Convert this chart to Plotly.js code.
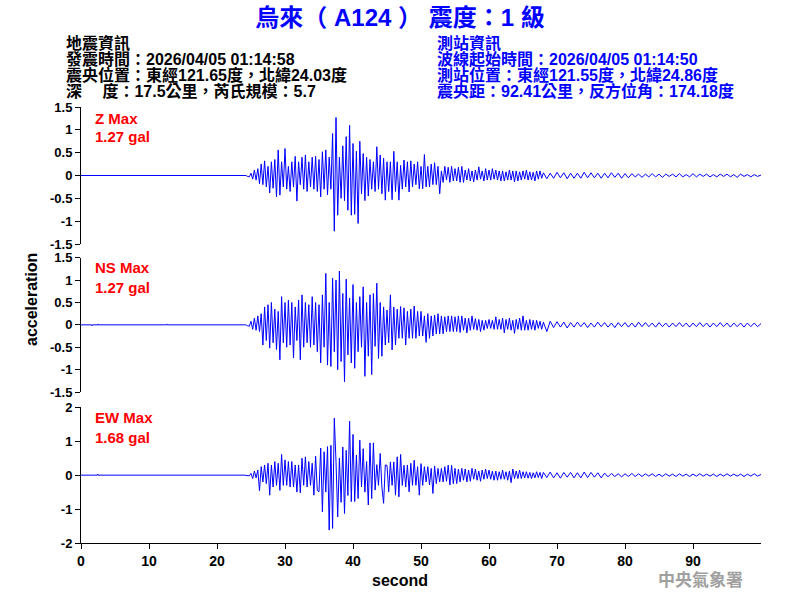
<!DOCTYPE html>
<html><head><meta charset="utf-8">
<script src="https://cdn.plot.ly/plotly-3.0.1.min.js"></script>
<style>html,body{margin:0;padding:0;background:#fff}</style>
</head><body><div id="chart" style="width:800px;height:600px"></div>
<script>
// ---------- texts ----------
const chartTitle = "烏來（ A124 ） 震度：1 級";
const quakeInfo = ["地震資訊", "發震時間：2026/04/05 01:14:58", "震央位置：東經121.65度，北緯24.03度", "深　 度：17.5公里，芮氏規模：5.7"];
const stationInfo = ["測站資訊", "波線起始時間：2026/04/05 01:14:50", "測站位置：東經121.55度，北緯24.86度", "震央距：92.41公里，反方位角：174.18度"];
const componentNames = ["Z Max", "NS Max", "EW Max"];
const maxValues = ["1.27 gal", "1.27 gal", "1.68 gal"];
const xTickVals = [0, 10, 20, 30, 40, 50, 60, 70, 80, 90];
const yTick15 = [-1.5, -1, -0.5, 0, 0.5, 1, 1.5];
const yTick15Text = ["-1.5", "-1", "-0.5", "0", "0.5", "1", "1.5"];
const yTick2 = [-2, -1, 0, 1, 2];
const yTick2Text = ["-2", "-1", "0", "1", "2"];

// ---------- sampling ----------
const strongStart = 24, strongStep = 0.25;   // 24.00 .. 67.75 s
const codaStart = 68, codaStep = 0.5;        // 68.0 .. 100.0 s

// pre-event (quiet) samples
const zPreT = [0];
const zPreV = [0];
const nsPreT = [0, 1.6, 1.65, 1.7, 2.5, 2.55, 2.6, 12.6, 12.65, 12.7];
const nsPreV = [0, 0, -0.02, 0, 0, 0.02, 0, 0, 0.02, 0];
const ewPreT = [0, 2.4, 2.45, 2.5];
const ewPreV = [0, 0, 0.03, 0];

// Z component, strong motion (gal), 4 samples per second from 24 s
const zStrong = [
 0,0,-0.02,-0.03, 0.05,-0.08,0.12,-0.1, 0.15,-0.18,0.25,-0.2, 0.32,-0.25,0.2,-0.38,
 0.3,-0.28,0.35,-0.47, 0.56,-0.43,0.3,-0.25, 0.59,-0.3,0.2,-0.35, 0.3,-0.25,0.42,-0.56,
 0.3,-0.2,0.4,-0.3, 0.45,-0.35,0.3,-0.25, 0.4,-0.3,0.42,-0.35, 0.35,-0.47,0.52,-0.3,
 0.56,-0.42,0.4,-0.3, 0.92,-1.22,1.27,-0.87, 0.4,-0.5,0.65,-0.55, 0.85,-0.76,1.1,-0.87,
 0.7,-0.85,0.53,-1.05, 0.75,-0.4,0.48,-0.55, 0.4,-0.45,0.35,-0.3, 0.3,-0.35,0.63,-0.3,
 0.45,-0.4,0.38,-0.54, 0.3,-0.35,0.3,-0.53, 0.53,-0.35,0.3,-0.54, 0.22,-0.3,0.34,-0.25,
 0.3,-0.36,0.32,-0.25, 0.25,-0.2,0.3,-0.29, 0.2,-0.29,0.46,-0.25, 0.2,-0.25,0.25,-0.2,
 0.28,-0.2,0.2,-0.4, 0.1,-0.15,0.2,-0.1, 0.18,-0.15,0.2,-0.12, 0.15,-0.12,0.18,-0.15,
 0.2,-0.15,0.12,-0.1, 0.15,-0.12,0.1,-0.14, 0.12,-0.1,0.19,-0.08, 0.1,-0.12,0.15,-0.1,
 0.12,-0.1,0.15,-0.08, 0.12,-0.1,0.1,-0.12, 0.1,-0.12,0.08,-0.1, 0.12,-0.1,0.1,-0.14,
 0.1,-0.12,0.08,-0.1, 0.1,-0.08,0.12,-0.1, 0.08,-0.1,0.07,-0.12, 0.1,-0.08,0.1,-0.06
];
// Z component, coda, 2 samples per second from 68 s
const zCoda = [
 0.06,-0.07,0.05,-0.06,0.07,-0.05,0.06,-0.07,0.05,-0.06,
 0.05,-0.06,0.07,-0.05,0.06,-0.05,0.05,-0.06,0.05,-0.05,
 0.06,-0.04,0.05,-0.06,0.04,-0.05,0.04,-0.03,0.03,-0.04,
 0.03,-0.03,0.04,-0.03,0.03,-0.04,0.03,-0.02,0.03,-0.03,
 0.04,-0.03,0.02,-0.03,0.04,-0.03,0.03,-0.02,0.03,-0.03,
 0.02,-0.03,0.03,-0.02,0.03,-0.03,0.02,-0.04,0.03,-0.02,
 0.02,-0.03,0.02,-0.02,0.01
];

// NS component
const nsStrong = [
 0,0,-0.02,-0.03, 0.08,-0.1,0.15,-0.12, 0.2,-0.15,0.25,-0.45, 0.4,-0.35,0.45,-0.52,
 0.5,-0.4,0.35,-0.55, 0.3,-0.78,0.63,-0.4, 0.5,-0.5,0.55,-0.45, 0.5,-0.74,0.4,-0.35,
 0.55,-0.78,0.67,-0.5, 0.5,-0.4,0.45,-0.5, 0.63,-0.45,0.5,-0.6, 0.45,-0.85,0.67,-0.5,
 1.15,-0.9,0.5,-0.93, 1.04,-0.6,1.0,-1.0, 1.2,-0.82,0.7,-1.27, 1.02,-0.67,0.6,-0.85,
 0.9,-0.97,0.5,-0.6, 0.63,-0.5,0.85,-1.15, 0.5,-0.7,0.67,-1.11, 0.7,-0.48,0.93,-0.75,
 0.5,-0.7,0.4,-0.45, 0.33,-0.4,0.67,-0.56, 0.4,-0.45,0.35,-0.3, 0.41,-0.3,0.38,-0.45,
 0.3,-0.3,0.35,-0.3, 0.42,-0.3,0.3,-0.25, 0.3,-0.25,0.2,-0.39, 0.25,-0.3,0.2,-0.25,
 0.22,-0.2,0.25,-0.2, 0.2,-0.2,0.18,-0.15, 0.2,-0.15,0.2,-0.15, 0.18,-0.15,0.2,-0.17,
 0.2,-0.12,0.15,-0.18, 0.15,-0.12,0.2,-0.1, 0.14,-0.12,0.12,-0.15, 0.1,-0.12,0.1,-0.08,
 0.12,-0.08,0.1,-0.1, 0.18,-0.1,0.12,-0.1, 0.15,-0.18,0.12,-0.1, 0.15,-0.12,0.1,-0.19,
 0.12,-0.1,0.15,-0.12, 0.2,-0.12,0.1,-0.12, 0.12,-0.1,0.1,-0.12, 0.1,-0.08,0.08,-0.1
];
const nsCoda = [
 0.06,-0.15,0.08,-0.06,0.07,-0.05,0.06,-0.07,0.05,-0.05,
 0.06,-0.04,0.05,-0.06,0.04,-0.05,0.06,-0.04,0.05,-0.05,
 0.04,-0.06,0.05,-0.04,0.05,-0.05,0.04,-0.05,0.06,-0.04,
 0.05,-0.04,0.04,-0.05,0.05,-0.04,0.04,-0.05,0.04,-0.04,
 0.05,-0.04,0.04,-0.05,0.04,-0.04,0.05,-0.04,0.04,-0.05,
 0.04,-0.04,0.05,-0.04,0.04,-0.05,0.04,-0.04,0.04,-0.05,
 0.04,-0.04,0.04,-0.04,0.03
];

// EW component
const ewStrong = [
 0,0,0,-0.02, 0.05,-0.1,0.12,-0.08, 0.15,-0.46,0.25,-0.2, 0.3,-0.25,0.35,-0.59,
 0.3,-0.35,0.4,-0.3, 0.35,-0.45,0.61,-0.3, 0.45,-0.3,0.4,-0.35, 0.4,-0.35,0.3,-0.5,
 0.3,-0.52,0.5,-0.3, 0.54,-0.35,0.4,-0.3, 0.35,-0.59,0.56,-0.45, -0.49,0.8,-1.08,0.69,
 -0.5,0.84,-1.62,0.88, -1.57,1.68,0.4,-1.23, 0.5,-0.8,0.83,-1.13, 0.73,-0.6,1.59,-0.78,
 1.2,-0.78,0.59,-0.69, 1.03,-0.35,0.78,-0.5, 0.4,-0.88,0.95,-0.69, 0.95,-0.44,0.31,-0.3,
 0.64,-0.35,-0.83,0.3, 0.29,-0.49,0.39,-0.3, 0.39,-0.59,0.54,-0.64, 0.61,-0.3,0.29,-0.35,
 0.3,-0.49,0.35,-0.3, 0.44,-0.3,0.25,-0.59, 0.34,-0.3,0.25,-0.2, 0.25,-0.29,0.2,-0.54,
 0.27,-0.25,0.2,-0.2, 0.2,-0.2,0.25,-0.18, 0.29,-0.29,0.29,-0.25, 0.2,-0.25,0.18,-0.2,
 0.2,-0.15,0.18,-0.2, 0.15,-0.18,0.2,-0.12, 0.18,-0.15,0.12,-0.18, 0.15,-0.12,0.18,-0.1,
 0.15,-0.12,0.12,-0.15, 0.12,-0.15,0.1,-0.12, 0.15,-0.12,0.1,-0.15, 0.12,-0.22,0.18,-0.1,
 0.12,-0.1,0.15,-0.1, 0.1,-0.08,0.1,-0.09, 0.08,-0.1,0.07,-0.08, 0.1,-0.07,0.08,-0.1
];
const ewCoda = [
 0.08,-0.07,0.09,-0.08,0.07,-0.09,0.08,-0.06,0.08,-0.08,
 0.07,-0.08,0.09,-0.07,0.08,-0.06,0.07,-0.08,0.06,-0.05,
 0.05,-0.04,0.04,-0.05,0.04,-0.04,0.05,-0.04,0.04,-0.04,
 0.04,-0.03,0.04,-0.04,0.03,-0.04,0.04,-0.03,0.03,-0.04,
 0.04,-0.03,0.03,-0.04,0.03,-0.03,0.04,-0.03,0.03,-0.03,
 0.03,-0.04,0.03,-0.03,0.04,-0.03,0.03,-0.03,0.03,-0.04,
 0.03,-0.03,0.04,-0.03,0.02
];

// ---------- build ----------
function sampleTimes(start, step, n) { const t = []; for (let i = 0; i < n; i++) t.push(+(start + i * step).toFixed(3)); return t; }
function buildSeries(preT, preV, strong, coda) {
  return {
    x: preT.concat(sampleTimes(strongStart, strongStep, strong.length), sampleTimes(codaStart, codaStep, coda.length)),
    y: preV.concat(strong, coda)
  };
}
const zS = buildSeries(zPreT, zPreV, zStrong, zCoda);
const nsS = buildSeries(nsPreT, nsPreV, nsStrong, nsCoda);
const ewS = buildSeries(ewPreT, ewPreV, ewStrong, ewCoda);

const lineStyle = {color: '#0000ff', width: 1};
const traces = [
  {x: zS.x, y: zS.y, xaxis: 'x', yaxis: 'y', type: 'scatter', mode: 'lines', line: lineStyle, hoverinfo: 'skip'},
  {x: nsS.x, y: nsS.y, xaxis: 'x', yaxis: 'y2', type: 'scatter', mode: 'lines', line: lineStyle, hoverinfo: 'skip'},
  {x: ewS.x, y: ewS.y, xaxis: 'x', yaxis: 'y3', type: 'scatter', mode: 'lines', line: lineStyle, hoverinfo: 'skip'}
];

// ---------- layout ----------
const W = 800, H = 600, ML = 81, MR = 39, MT = 107, MB = 57;
const PW = W - ML - MR, PH = H - MT - MB;
const px = v => (v - ML) / PW;
const py = v => (H - MB - v) / PH;

const FONT = "Arial, 'Liberation Sans', 'Noto Sans CJK TC', sans-serif";
const tickFontY = {family: FONT, size: 13, color: '#000', weight: 'bold'};
const tickFontX = {family: FONT, size: 14, color: '#000', weight: 'bold'};

function yAxis(domain, range, vals, text) {
  return {domain: domain, range: range, anchor: 'x', tickvals: vals, ticktext: text,
    ticks: 'outside', ticklen: 5, tickcolor: '#000', tickwidth: 1,
    showline: true, linecolor: '#000', linewidth: 1, showgrid: false, zeroline: false,
    tickfont: tickFontY, fixedrange: true};
}

const annotations = [];
function addText(text, x, y, size, color, weight, anchor, extra) {
  annotations.push(Object.assign({text: text, xref: 'paper', yref: 'paper', x: px(x), y: py(y),
    xanchor: anchor || 'left', yanchor: 'middle', showarrow: false,
    font: {family: FONT, size: size, color: color, weight: weight}}, extra || {}));
}
const infoRows = [43, 59, 75, 91];
quakeInfo.forEach((s, i) => addText(s, 64, infoRows[i], 16, '#000', 'bold'));
stationInfo.forEach((s, i) => addText(s, 435, infoRows[i], 16, '#0000ff', 'bold'));
const labelRows = [[118, 136.5], [267, 287], [417.5, 437.5]];
componentNames.forEach((s, i) => {
  addText(s, 93, labelRows[i][0], 15, '#ff0000', 'bold');
  addText(maxValues[i], 93, labelRows[i][1], 15, '#ff0000', 'bold');
});
addText('acceleration', 31, 300, 16, '#000', 'bold', 'center', {textangle: -90});
addText('second', 400, 580, 16, '#000', 'bold', 'center');
addText('中央氣象署', 656, 580, 17, '#a0a0a0', 'bold');

const layout = {
  width: W, height: H,
  margin: {l: ML, r: MR, t: MT, b: MB, pad: 0},
  paper_bgcolor: '#fff', plot_bgcolor: '#fff',
  showlegend: false,
  title: {text: chartTitle, xref: 'container', yref: 'container', x: 0.5, y: 1 - 18 / H,
    xanchor: 'center', yanchor: 'middle',
    font: {family: FONT, size: 24, color: '#0000ff', weight: 'bold'}},
  xaxis: {domain: [0, 1], range: [0, 100], anchor: 'y3', tickvals: xTickVals,
    ticks: 'outside', ticklen: 5, tickcolor: '#000', tickwidth: 1,
    showline: true, linecolor: '#000', linewidth: 1, showgrid: false, zeroline: false,
    tickfont: tickFontX, fixedrange: true},
  yaxis: yAxis([py(244), 1], [-1.5, 1.5], yTick15, yTick15Text),
  yaxis2: yAxis([py(392), py(257.7)], [-1.5, 1.5], yTick15, yTick15Text),
  yaxis3: yAxis([0, py(407.3)], [-2, 2], yTick2, yTick2Text),
  annotations: annotations
};

Plotly.newPlot('chart', traces, layout, {staticPlot: true, displayModeBar: false});
</script>
</body></html>
